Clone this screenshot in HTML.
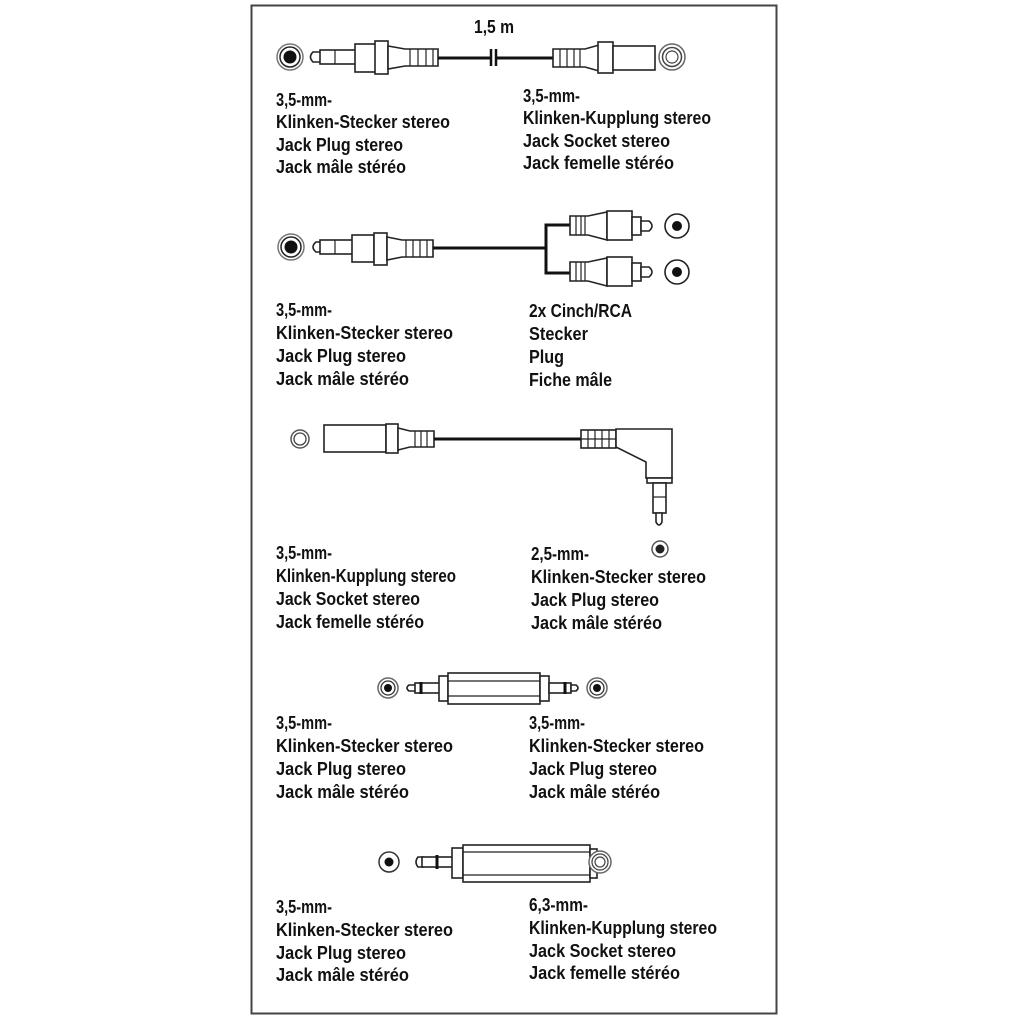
<!DOCTYPE html>
<html><head><meta charset="utf-8"><style>
html,body{margin:0;padding:0;background:#fff;width:1024px;height:1024px;overflow:hidden}
svg{display:block}
text{font-family:"Liberation Sans",sans-serif;font-weight:bold;font-size:18px;fill:#111}
.o{fill:#fff;stroke:#222;stroke-width:1.6}
.l{stroke:#222;stroke-width:1.2;fill:none}
.c{stroke:#111;stroke-width:3;fill:none}
</style></head><body>
<svg width="1024" height="1024" viewBox="0 0 1024 1024">
<rect x="251.5" y="5.5" width="525" height="1008" fill="#fff" stroke="#444" stroke-width="2"/>

<!-- Section 1 -->
<text x="474" y="33" textLength="40" lengthAdjust="spacingAndGlyphs">1,5 m</text>
<circle cx="290" cy="57" r="13" fill="#fff" stroke="#777" stroke-width="1.5"/>
<circle cx="290" cy="57" r="10" fill="#fff" stroke="#222" stroke-width="1.5"/>
<circle cx="290" cy="57" r="6.5" fill="#111"/>
<path class="o" d="M322 52 L313 52 Q308 57 313 62 L322 62 Z"/>
<rect class="o" x="320" y="50" width="36" height="14"/><line class="l" x1="335" y1="50" x2="335" y2="64"/>
<rect class="o" x="355" y="44" width="21" height="28"/>
<rect class="o" x="375" y="41" width="13" height="33"/>
<path class="o" d="M388 46 L405 49 L438 49 L438 66 L405 66 L388 69 Z"/>
<path class="l" d="M410 49v17M418 49v17M426 49v17M433 49v17"/>
<line class="c" x1="438" y1="58" x2="490" y2="58"/>
<path d="M491 49v17M496 49v17" stroke="#111" stroke-width="2.5"/>
<line class="c" x1="497" y1="58" x2="553" y2="58"/>
<path class="o" d="M553 49 L585 49 L599 45 L599 71 L585 67 L553 67 Z"/>
<path class="l" d="M560 49v18M567 49v18M574 49v18M580 49v18"/>
<rect class="o" x="598" y="42" width="15" height="31"/>
<rect class="o" x="613" y="46" width="42" height="24"/>
<circle cx="672" cy="57" r="13" fill="#fff" stroke="#666" stroke-width="1.5"/>
<circle cx="672" cy="57" r="9.5" fill="#fff" stroke="#444" stroke-width="1.5"/>
<circle cx="672" cy="57" r="6" fill="#fff" stroke="#444" stroke-width="1.2"/>
<text x="276" y="106" textLength="56" lengthAdjust="spacingAndGlyphs">3,5-mm-</text>
<text x="276" y="128" textLength="174" lengthAdjust="spacingAndGlyphs">Klinken-Stecker stereo</text>
<text x="276" y="151" textLength="127" lengthAdjust="spacingAndGlyphs">Jack Plug stereo</text>
<text x="276" y="173" textLength="130" lengthAdjust="spacingAndGlyphs">Jack mâle stéréo</text>
<text x="523" y="102" textLength="57" lengthAdjust="spacingAndGlyphs">3,5-mm-</text>
<text x="523" y="124" textLength="188" lengthAdjust="spacingAndGlyphs">Klinken-Kupplung stereo</text>
<text x="523" y="147" textLength="147" lengthAdjust="spacingAndGlyphs">Jack Socket stereo</text>
<text x="523" y="169" textLength="151" lengthAdjust="spacingAndGlyphs">Jack femelle stéréo</text>

<!-- Section 2 -->
<circle cx="291" cy="247" r="13" fill="#fff" stroke="#777" stroke-width="1.5"/>
<circle cx="291" cy="247" r="10" fill="#fff" stroke="#222" stroke-width="1.5"/>
<circle cx="291" cy="247" r="6.5" fill="#111"/>
<path class="o" d="M322 242 L316 242 Q310 247 316 252 L322 252 Z"/>
<rect class="o" x="320" y="240" width="33" height="14"/><line class="l" x1="335" y1="240" x2="335" y2="254"/>
<rect class="o" x="352" y="235" width="22" height="27"/>
<rect class="o" x="374" y="233" width="13" height="32"/>
<path class="o" d="M387 237 L402 240 L433 240 L433 257 L402 257 L387 260 Z"/>
<path class="l" d="M406 240v17M413 240v17M420 240v17M427 240v17"/>
<line class="c" x1="433" y1="248" x2="546" y2="248"/>
<path d="M571 225 H546 V273 H571" stroke="#111" stroke-width="3" fill="none"/>
<g>
<path class="o" d="M570 216 L588 216 L607 212 L607 240 L588 235 L570 235 Z"/>
<path class="l" d="M576 216v19M581 216v19M585 216v19"/>
<rect class="o" x="607" y="211" width="25" height="29"/>
<rect class="o" x="632" y="217" width="9" height="18"/>
<path class="o" d="M641 221 H649 Q655 226 649 231 H641 Z"/>
<circle cx="677" cy="226" r="12" fill="#fff" stroke="#222" stroke-width="1.6"/>
<circle cx="677" cy="226" r="5" fill="#111"/>
</g>
<g transform="translate(0,46)">
<path class="o" d="M570 216 L588 216 L607 212 L607 240 L588 235 L570 235 Z"/>
<path class="l" d="M576 216v19M581 216v19M585 216v19"/>
<rect class="o" x="607" y="211" width="25" height="29"/>
<rect class="o" x="632" y="217" width="9" height="18"/>
<path class="o" d="M641 221 H649 Q655 226 649 231 H641 Z"/>
<circle cx="677" cy="226" r="12" fill="#fff" stroke="#222" stroke-width="1.6"/>
<circle cx="677" cy="226" r="5" fill="#111"/>
</g>
<text x="276" y="316" textLength="56" lengthAdjust="spacingAndGlyphs">3,5-mm-</text>
<text x="276" y="339" textLength="177" lengthAdjust="spacingAndGlyphs">Klinken-Stecker stereo</text>
<text x="276" y="362" textLength="130" lengthAdjust="spacingAndGlyphs">Jack Plug stereo</text>
<text x="276" y="385" textLength="133" lengthAdjust="spacingAndGlyphs">Jack mâle stéréo</text>
<text x="529" y="317" textLength="103" lengthAdjust="spacingAndGlyphs">2x Cinch/RCA</text>
<text x="529" y="340" textLength="59" lengthAdjust="spacingAndGlyphs">Stecker</text>
<text x="529" y="363" textLength="35" lengthAdjust="spacingAndGlyphs">Plug</text>
<text x="529" y="386" textLength="83" lengthAdjust="spacingAndGlyphs">Fiche mâle</text>

<!-- Section 3 -->
<circle cx="300" cy="439" r="9" fill="#fff" stroke="#555" stroke-width="1.5"/>
<circle cx="300" cy="439" r="6" fill="#fff" stroke="#444" stroke-width="1.3"/>
<rect class="o" x="324" y="425" width="62" height="27"/>
<rect class="o" x="386" y="424" width="12" height="29"/>
<path class="o" d="M398 428 L410 431 L434 431 L434 447 L410 447 L398 450 Z"/>
<path class="l" d="M415 431v16M421 431v16M427 431v16"/>
<line class="c" x1="434" y1="439" x2="581" y2="439"/>
<rect class="o" x="581" y="430" width="35" height="18"/>
<path class="l" d="M581 439h35M588 430v18M595 430v18M602 430v18M609 430v18"/>
<path class="o" d="M616 429 L672 429 L672 478 L646 478 L646 462 L616 447 Z"/>
<rect class="o" x="647" y="478" width="25" height="5"/>
<rect class="o" x="653" y="483" width="13" height="30"/>
<line class="l" x1="653" y1="497" x2="666" y2="497"/>
<path class="o" d="M656 513 L656 522 Q659 528 662 522 L662 513 Z"/>
<circle cx="660" cy="549" r="8" fill="#fff" stroke="#555" stroke-width="1.5"/>
<circle cx="660" cy="549" r="4.5" fill="#222"/>
<text x="276" y="559" textLength="56" lengthAdjust="spacingAndGlyphs">3,5-mm-</text>
<text x="276" y="582" textLength="180" lengthAdjust="spacingAndGlyphs">Klinken-Kupplung stereo</text>
<text x="276" y="605" textLength="144" lengthAdjust="spacingAndGlyphs">Jack Socket stereo</text>
<text x="276" y="628" textLength="148" lengthAdjust="spacingAndGlyphs">Jack femelle stéréo</text>
<text x="531" y="560" textLength="58" lengthAdjust="spacingAndGlyphs">2,5-mm-</text>
<text x="531" y="583" textLength="175" lengthAdjust="spacingAndGlyphs">Klinken-Stecker stereo</text>
<text x="531" y="606" textLength="128" lengthAdjust="spacingAndGlyphs">Jack Plug stereo</text>
<text x="531" y="629" textLength="131" lengthAdjust="spacingAndGlyphs">Jack mâle stéréo</text>

<!-- Section 4 -->
<circle cx="388" cy="688" r="10" fill="#fff" stroke="#666" stroke-width="1.5"/>
<circle cx="388" cy="688" r="7" fill="#fff" stroke="#333" stroke-width="1.3"/>
<circle cx="388" cy="688" r="4" fill="#111"/>
<path class="o" d="M416 685 L409 685 Q405 688 409 691 L416 691 Z"/>
<rect class="o" x="415" y="683" width="25" height="10"/><line x1="421" y1="682" x2="421" y2="694" stroke="#111" stroke-width="3"/>
<rect class="o" x="439" y="676" width="9" height="25"/>
<rect class="o" x="448" y="673" width="92" height="31"/>
<path class="l" d="M448 681h92M448 696h92"/>
<rect class="o" x="540" y="676" width="9" height="25"/>
<rect class="o" x="549" y="683" width="22" height="10"/><line x1="565" y1="682" x2="565" y2="694" stroke="#111" stroke-width="3"/>
<path class="o" d="M571 685 L576 685 Q580 688 576 691 L571 691 Z"/>
<circle cx="597" cy="688" r="10" fill="#fff" stroke="#666" stroke-width="1.5"/>
<circle cx="597" cy="688" r="7" fill="#fff" stroke="#333" stroke-width="1.3"/>
<circle cx="597" cy="688" r="4" fill="#111"/>
<text x="276" y="729" textLength="56" lengthAdjust="spacingAndGlyphs">3,5-mm-</text>
<text x="276" y="752" textLength="177" lengthAdjust="spacingAndGlyphs">Klinken-Stecker stereo</text>
<text x="276" y="775" textLength="130" lengthAdjust="spacingAndGlyphs">Jack Plug stereo</text>
<text x="276" y="798" textLength="133" lengthAdjust="spacingAndGlyphs">Jack mâle stéréo</text>
<text x="529" y="729" textLength="56" lengthAdjust="spacingAndGlyphs">3,5-mm-</text>
<text x="529" y="752" textLength="175" lengthAdjust="spacingAndGlyphs">Klinken-Stecker stereo</text>
<text x="529" y="775" textLength="128" lengthAdjust="spacingAndGlyphs">Jack Plug stereo</text>
<text x="529" y="798" textLength="131" lengthAdjust="spacingAndGlyphs">Jack mâle stéréo</text>

<!-- Section 5 -->
<circle cx="389" cy="862" r="10" fill="#fff" stroke="#333" stroke-width="1.5"/>
<circle cx="389" cy="862" r="4.5" fill="#111"/>
<path class="o" d="M423 857 L418 857 Q414 862 418 867 L423 867 Z"/>
<rect class="o" x="422" y="857" width="31" height="10"/><line x1="437" y1="855" x2="437" y2="869" stroke="#111" stroke-width="3"/>
<rect class="o" x="452" y="848" width="11" height="30"/>
<rect class="o" x="463" y="845" width="127" height="37"/>
<path class="l" d="M463 852h127M463 875h127"/>
<rect class="o" x="590" y="849" width="7" height="29"/>
<circle cx="600" cy="862" r="11" fill="#fff" stroke="#666" stroke-width="1.5"/>
<circle cx="600" cy="862" r="8" fill="#fff" stroke="#444" stroke-width="1.3"/>
<circle cx="600" cy="862" r="5" fill="#fff" stroke="#444" stroke-width="1.2"/>
<text x="276" y="913" textLength="56" lengthAdjust="spacingAndGlyphs">3,5-mm-</text>
<text x="276" y="936" textLength="177" lengthAdjust="spacingAndGlyphs">Klinken-Stecker stereo</text>
<text x="276" y="959" textLength="130" lengthAdjust="spacingAndGlyphs">Jack Plug stereo</text>
<text x="276" y="981" textLength="133" lengthAdjust="spacingAndGlyphs">Jack mâle stéréo</text>
<text x="529" y="911" textLength="59" lengthAdjust="spacingAndGlyphs">6,3-mm-</text>
<text x="529" y="934" textLength="188" lengthAdjust="spacingAndGlyphs">Klinken-Kupplung stereo</text>
<text x="529" y="957" textLength="147" lengthAdjust="spacingAndGlyphs">Jack Socket stereo</text>
<text x="529" y="979" textLength="151" lengthAdjust="spacingAndGlyphs">Jack femelle stéréo</text>
</svg>
</body></html>
